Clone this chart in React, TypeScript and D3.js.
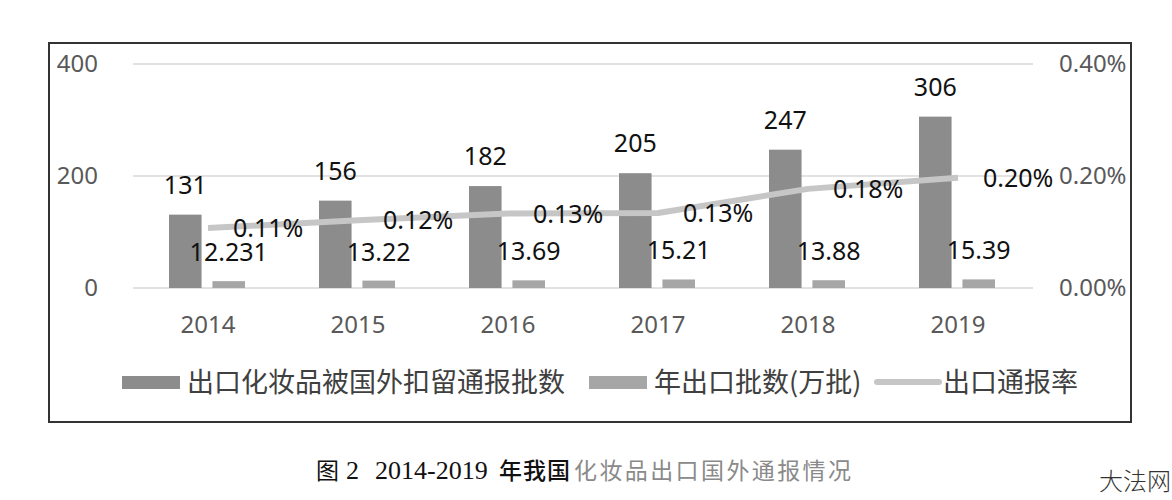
import React from "react";
import * as d3 from "d3";

const years = ["2014", "2015", "2016", "2017", "2018", "2019"];
const detained = [131, 156, 182, 205, 247, 306];
const exportBatches = [12.231, 13.22, 13.69, 15.21, 13.88, 15.39];
const rate = [0.00107, 0.00121, 0.00133, 0.00134, 0.00177, 0.00197];
const rateLabels = ["0.11%", "0.12%", "0.13%", "0.13%", "0.18%", "0.20%"];
const leftTicks = [0, 200, 400];
const rightTicks = [0, 0.002, 0.004];
const seriesNames = ["出口化妆品被国外扣留通报批数", "年出口批数(万批)", "出口通报率"];

const W = 1172;
const H = 500;
const NUM_FONT = "'Noto Sans', 'Open Sans', sans-serif";
const CJK_FONT = "'Noto Sans CJK SC', 'Noto Sans', sans-serif";
const SERIF = "'Liberation Serif', serif";

export default function App() {
  const x = d3.scaleBand<string>().domain(years).range([133, 1033]).padding(0);
  const sub = d3
    .scaleBand<string>()
    .domain(["a", "b"])
    .range([36, 112])
    .paddingInner(0.25)
    .paddingOuter(0);
  const yL = d3.scaleLinear().domain([0, 400]).range([288, 64]);
  const yR = d3.scaleLinear().domain([0, 0.004]).range([288, 64]);
  const cx = (y: string) => (x(y) as number) + x.bandwidth() / 2;
  const line = d3
    .line<number>()
    .x((_, i) => cx(years[i]))
    .y((d) => yR(d));

  const darkColor = "#8c8c8c";
  const lightColor = "#a6a6a6";
  const lineColor = "#c6c6c6";

  return (
    <svg
      width={W}
      height={H}
      style={{ position: "absolute", left: 0, top: 0, background: "#fff" }}
    >
      <rect x={0} y={0} width={W} height={H} fill="#fff" />
      {/* frame */}
      <rect x={49} y={43} width={1082} height={379} fill="none" stroke="#333" strokeWidth={2} />

      {/* gridlines */}
      {leftTicks.map((t) => (
        <line key={t} x1={133} x2={1033} y1={yL(t)} y2={yL(t)} stroke="#d9d9d9" strokeWidth={1.5} />
      ))}

      {/* left axis labels */}
      {leftTicks.map((t) => (
        <text
          key={"l" + t}
          x={98}
          y={yL(t)}
          dy="0.35em"
          textAnchor="end"
          fontFamily={NUM_FONT}
          fontSize={24}
          fill="#595959"
        >
          {t}
        </text>
      ))}
      {/* right axis labels */}
      {rightTicks.map((t) => (
        <text
          key={"r" + t}
          x={1059}
          y={yR(t)}
          dy="0.35em"
          textAnchor="start"
          fontFamily={NUM_FONT}
          fontSize={24}
          fill="#595959"
        >
          {(t * 100).toFixed(2) + "%"}
        </text>
      ))}

      {/* bars */}
      {years.map((yr, i) => {
        const x0 = x(yr) as number;
        const xa = x0 + (sub("a") as number);
        const xb = x0 + (sub("b") as number);
        return (
          <g key={yr}>
            <rect x={xa} y={yL(detained[i])} width={sub.bandwidth()} height={yL(0) - yL(detained[i])} fill={darkColor} />
            <rect x={xb} y={yL(exportBatches[i])} width={sub.bandwidth()} height={yL(0) - yL(exportBatches[i])} fill={lightColor} />
          </g>
        );
      })}

      {/* line */}
      <path d={line(rate) || ""} fill="none" stroke={lineColor} strokeWidth={6} strokeLinejoin="round" />

      {/* data labels */}
      {years.map((yr, i) => {
        const x0 = x(yr) as number;
        const xa = x0 + (sub("a") as number) + sub.bandwidth() / 2;
        const xb = x0 + (sub("b") as number) + sub.bandwidth() / 2;
        return (
          <g key={"lab" + yr} fontFamily={NUM_FONT} fontSize={25} fill="#111">
            <text x={xa} y={yL(detained[i]) - 21} textAnchor="middle">
              {detained[i]}
            </text>
            <text x={xb} y={yL(exportBatches[i]) - 20} textAnchor="middle">
              {exportBatches[i]}
            </text>
            <text x={cx(yr) + 25} y={yR(rate[i])} dy="0.36em" textAnchor="start">
              {rateLabels[i]}
            </text>
          </g>
        );
      })}

      {/* x axis labels */}
      {years.map((yr) => (
        <text
          key={"x" + yr}
          x={cx(yr)}
          y={333}
          textAnchor="middle"
          fontFamily={NUM_FONT}
          fontSize={24}
          fill="#595959"
        >
          {yr}
        </text>
      ))}

      {/* legend */}
      <rect x={122} y={376} width={58} height={13} fill={darkColor} />
      <text x={187} y={392} fontFamily={CJK_FONT} fontSize={27} fill="#404040">
        {seriesNames[0]}
      </text>
      <rect x={589} y={376} width={58} height={13} fill={lightColor} />
      <text x={654} y={392} fontFamily={CJK_FONT} fontSize={27} fill="#404040">
        {seriesNames[1]}
      </text>
      <line x1={877} x2={939} y1={382} y2={382} stroke={lineColor} strokeWidth={6} strokeLinecap="round" />
      <text x={943} y={392} fontFamily={CJK_FONT} fontSize={27} fill="#404040">
        {seriesNames[2]}
      </text>

      {/* caption */}
      <g fontSize={23} fill="#111">
        <text x={316} y={479} fontFamily={CJK_FONT}>图</text>
        <text x={346} y={479} fontFamily={SERIF} fontSize={26}>2</text>
        <text x={375} y={479} fontFamily={SERIF} fontSize={26}>2014-2019</text>
        <text x={499} y={479} fontFamily={CJK_FONT} fontWeight={500} letterSpacing={1}>年我国</text>
        <text x={574} y={479} fontFamily={CJK_FONT} fill="#8a8a8a" letterSpacing={2.4}>化妆品出口国外通报情况</text>
      </g>

      {/* watermark */}
      <text x={1099} y={490} fontFamily={CJK_FONT} fontSize={24} fontWeight={300} fill="#333">
        大法网
      </text>
    </svg>
  );
}
